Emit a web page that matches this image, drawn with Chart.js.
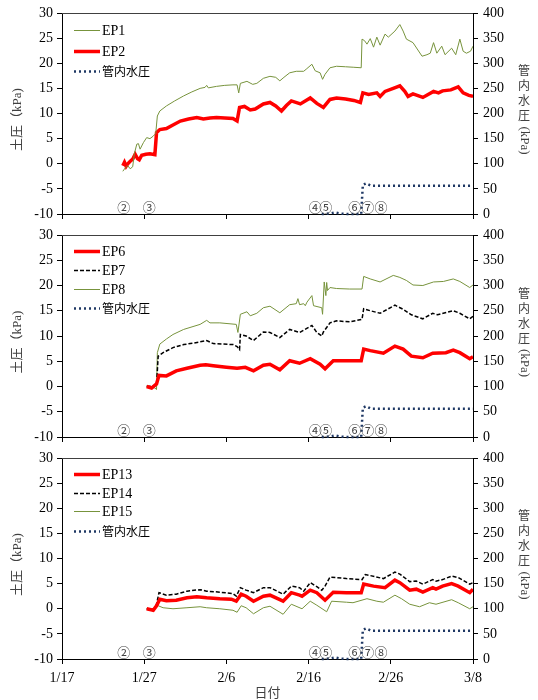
<!DOCTYPE html>
<html><head><meta charset="utf-8">
<script src="https://cdn.jsdelivr.net/npm/chart.js@4"></script>
<style>
html,body{margin:0;padding:0;background:#fff;}
#wrap{position:relative;width:538px;height:700px;background:#fff;}
canvas{position:absolute;left:0;}
</style></head><body>
<div id="wrap">
<canvas id="c1" width="538" height="223" style="top:0px"></canvas>
<canvas id="c2" width="538" height="223" style="top:223px"></canvas>
<canvas id="c3" width="538" height="254" style="top:446px"></canvas>
</div>
<script>
// x values are days since 1/17
const xTickLabels = ['1/17','1/27','2/6','2/16','2/26','3/8'];
const leftTitle = '土圧（kPa)';
const rightTitleChars = ['管','内','水','圧'];
const rightTitleUnit = '(kPa)';
const xTitle = '日付';

const ep1Days = [7.4,7.7,8.0,8.3,8.6,8.8,9.1,9.3,9.5,9.9,10.3,10.7,11.1,11.4,11.6,11.9,12.7,13.7,14.8,15.8,16.8,17.4,17.6,17.8,18.8,19.8,20.8,21.3,21.5,21.7,22.5,23.2,23.7,24.5,25.3,26.0,26.5,27.0,27.7,28.5,29.4,29.7,30.4,30.8,31.4,31.7,32.0,32.6,33.4,34.5,35.5,36.4,36.5,36.8,37.1,37.5,37.9,38.3,38.7,39.3,39.7,40.5,41.1,41.5,41.9,42.7,43.8,44.4,44.8,45.2,45.6,46.2,46.6,47.4,47.9,48.4,48.8,49.2,49.7,50.0];
const ep1Vals = [-1.5,-0.8,-0.4,-1.0,-0.6,2.0,3.9,4.0,2.9,4.2,5.2,5.0,5.5,6.0,9.5,10.5,11.5,12.5,13.5,14.3,15.0,15.2,15.6,15.1,15.4,15.6,15.7,15.7,14.1,16.0,16.4,15.8,16.0,17.0,17.4,17.2,16.5,17.2,18.1,18.4,18.4,18.8,19.8,18.5,18.1,16.8,17.8,19.1,19.4,19.3,19.2,19.1,24.8,24.5,23.8,24.9,23.2,25.2,23.6,25.8,25.2,26.4,27.7,26.4,24.8,24.1,21.4,21.7,22.0,24.1,22.0,23.4,21.7,23.0,21.7,24.8,22.4,22.0,22.4,23.4];

const ep2Days = [7.4,7.6,7.8,8.0,8.3,8.6,8.9,9.2,9.4,9.7,10.2,10.7,11.3,11.5,11.9,12.7,13.5,14.4,15.4,16.4,17.2,18.0,18.8,19.8,20.8,21.3,21.6,22.2,22.9,23.5,24.5,25.3,26.0,26.7,27.3,27.9,29.0,30.2,31.0,31.8,32.6,33.4,34.5,35.5,36.3,36.6,37.3,38.3,38.7,39.3,40.3,41.1,41.7,42.1,42.7,43.9,45.2,45.8,46.3,47.3,48.2,48.8,49.5,50.0];
const ep2Vals = [-0.4,0.3,-0.5,0.0,0.5,0.9,1.9,1.0,0.8,1.7,1.9,2.0,1.8,6.2,6.8,7.0,7.7,8.5,8.9,9.2,8.9,9.1,9.2,9.1,9.0,8.5,11.2,11.4,10.7,10.9,11.9,12.2,11.5,10.5,11.6,12.5,11.9,13.1,12.0,11.2,12.8,13.1,12.9,12.6,12.2,14.1,13.8,14.1,13.4,14.4,15.0,15.5,14.4,13.4,13.9,13.2,14.4,14.1,14.5,14.7,15.3,14.1,13.6,13.4];

const ep6Days = [10.3,10.9,11.5,11.8,12.7,13.9,15.2,16.8,17.5,18.4,20.0,21.3,22.3,23.3,24.5,25.3,26.5,27.7,28.9,30.2,31.4,32.0,33.0,34.6,36.4,36.7,37.5,39.1,40.5,41.5,42.5,43.9,45.1,46.7,47.6,48.4,49.6,50.0];
const ep6Vals = [0.0,-0.3,0.5,2.2,2.1,3.1,3.6,4.2,4.3,4.1,3.8,3.6,3.8,3.1,4.2,4.4,3.3,5.1,4.6,5.5,4.4,3.5,5.1,5.1,5.1,7.4,7.1,6.6,8.0,7.4,6.0,5.7,6.6,6.7,7.2,6.7,5.5,5.9];

const ep7Days = [10.3,11.2,11.5,11.7,12.3,13.5,14.8,16.0,17.6,18.4,20.8,21.3,21.6,21.7,22.4,23.3,24.5,25.3,26.5,27.7,28.9,30.4,31.0,31.6,31.8,32.6,33.4,35.0,36.5,36.7,37.5,38.7,40.5,41.5,42.5,43.9,45.1,45.7,47.6,48.4,49.6,50.0];
const ep7Vals = [0.0,0.1,0.3,6.0,6.7,7.7,8.3,8.6,9.1,8.5,8.3,7.9,7.3,10.3,10.0,9.1,10.8,10.7,9.7,11.3,10.7,12.1,10.7,10.0,10.8,12.6,13.0,12.8,13.3,15.4,15.0,14.5,16.1,15.3,14.2,13.4,14.5,14.2,15.0,14.5,13.4,13.9];

const ep8Days = [10.3,11.3,11.5,11.6,11.9,12.7,13.5,14.8,16.8,17.6,18.0,19.2,21.2,21.4,21.7,22.5,22.9,23.7,24.5,25.3,26.5,27.7,28.5,28.7,28.9,29.4,29.6,29.8,30.4,30.6,31.6,31.7,31.9,32.1,32.2,32.3,32.6,33.4,35.0,36.5,36.7,37.5,38.7,40.3,41.1,41.9,42.7,43.9,45.2,46.4,47.6,48.4,49.6,50.0];
const ep8Vals = [0.1,-0.3,-0.6,6.7,8.4,9.4,10.3,11.3,12.3,13.1,12.6,12.6,12.3,10.7,14.3,14.8,14.0,14.5,15.6,15.9,14.6,16.2,16.4,17.4,16.2,16.4,16.0,16.7,18.0,16.0,15.6,14.3,20.7,18.0,20.6,19.0,19.6,19.4,19.3,19.3,21.8,21.3,20.7,22.0,21.6,21.0,20.1,20.0,20.7,20.8,21.3,20.8,19.6,20.1];

const ep13Days = [10.3,11.1,11.5,11.9,12.7,13.9,15.2,16.4,17.6,19.2,20.6,21.2,21.8,22.4,23.3,24.5,25.3,26.9,27.9,28.9,29.2,30.2,31.0,32.0,33.0,34.6,36.4,36.7,37.9,39.3,40.5,41.1,42.3,43.1,43.9,45.1,45.5,46.3,47.4,48.2,49.6,50.0];
const ep13Vals = [0.0,-0.3,0.6,1.9,1.6,1.7,2.2,2.4,2.2,2.0,1.9,1.5,2.9,2.5,1.5,2.5,2.7,1.5,3.2,2.7,2.5,3.7,3.2,1.7,3.3,3.2,3.2,4.9,4.5,4.2,5.7,5.2,3.7,3.9,3.3,4.2,3.9,4.5,5.0,4.5,3.2,3.9];

const ep14Days = [10.3,11.1,11.5,11.8,12.7,13.9,15.2,16.8,17.6,19.2,20.8,21.2,21.7,22.4,23.3,24.5,25.3,26.9,27.9,28.9,29.4,30.2,31.0,31.6,32.0,32.6,33.4,34.6,36.5,36.9,37.5,39.1,40.5,41.1,42.3,43.1,43.9,45.1,45.5,46.3,47.4,48.2,49.6,50.0];
const ep14Vals = [0.0,-0.4,0.9,3.2,2.7,2.9,3.5,3.8,3.5,3.3,3.0,2.5,4.2,3.7,3.2,4.2,4.2,2.9,4.5,4.2,3.5,5.2,4.4,3.7,4.5,6.3,6.2,6.0,5.8,6.8,6.6,6.0,7.3,6.9,5.4,5.5,4.9,5.8,5.5,5.8,6.5,6.2,4.9,5.2];

const ep15Days = [10.3,11.1,11.7,12.3,13.5,15.2,16.8,17.6,19.2,20.8,21.3,21.8,22.4,23.3,24.5,25.3,26.9,27.9,29.2,30.2,31.0,32.2,32.8,34.6,35.4,37.1,38.3,39.1,40.5,41.3,42.3,43.5,44.7,45.5,47.4,48.2,49.6,50.0];
const ep15Vals = [0.0,-0.4,0.6,0.2,0.0,0.2,0.4,0.2,0.0,-0.3,-0.7,0.6,0.2,-1.0,0.2,0.5,-1.1,0.9,0.0,1.5,0.7,-0.6,1.5,1.3,1.2,2.0,1.5,1.3,2.7,2.0,0.9,0.4,1.2,0.9,1.8,1.2,0.0,0.4];

const waterDays = [31.6,32.6,33.2,33.8,34.5,36.4,36.5,36.6,37.0,37.6,50.0];
const waterVals = [0,1,3,1,0,0,30,58,61,56,56];

const markLabels = ['②','③','④','⑤','⑥','⑦','⑧'];
const markDays = [7.5,10.6,30.8,32.1,35.6,37.2,38.8];

const SERIF = '"Liberation Serif", "Times New Roman", serif';
const CJK = '"Noto Sans CJK JP", sans-serif';
const MIX = '"Liberation Serif", "Noto Sans CJK JP", serif';

const GREEN = '#77933C', RED = '#FF0000', BLACK = '#000000', NAVY = '#1F3864';

function pts(d, v){ return d.map((x,i)=>({x:x, y:v[i]})); }

function waterSet(){
  return {label:'管内水圧', data:pts(waterDays, waterVals), yAxisID:'y2', borderColor:NAVY,
    borderWidth:2.5, borderDash:[2,3], pointRadius:0, clip:5, tension:0};
}
function greenSet(label, d, v){
  return {label, data:pts(d,v), yAxisID:'y', borderColor:GREEN, borderWidth:1, pointRadius:0, tension:0};
}
function redSet(label, d, v){
  return {label, data:pts(d,v), yAxisID:'y', borderColor:RED, borderWidth:3.5, pointRadius:0, tension:0};
}
function blackSet(label, d, v){
  return {label, data:pts(d,v), yAxisID:'y', borderColor:BLACK, borderWidth:1.5, borderDash:[4,2], pointRadius:0, tension:0};
}

const decor = {
  id:'decor',
  afterDraw(chart, args, opts){
    const {ctx, chartArea:a, scales} = chart;
    ctx.save();
    // top border of plot area
    ctx.strokeStyle = '#404040'; ctx.lineWidth = 1; ctx.setLineDash([]);
    ctx.beginPath(); ctx.moveTo(a.left, a.top + 0.5); ctx.lineTo(a.right, a.top + 0.5); ctx.stroke();
    // legend
    chart.data.datasets.forEach((d,i)=>{
      const y = Math.round(a.top + opts.legendY[i]) + 0.5;
      ctx.beginPath();
      ctx.strokeStyle = d.borderColor; ctx.lineWidth = d.borderWidth;
      ctx.setLineDash(d.borderDash || []);
      ctx.moveTo(74, y); ctx.lineTo(100, y); ctx.stroke();
      ctx.setLineDash([]);
      const isCJK = /[^\x00-\x7f]/.test(d.label);
      ctx.font = isCJK ? '12px ' + CJK : '14px ' + SERIF;
      ctx.fillStyle = '#000'; ctx.textBaseline = 'middle'; ctx.textAlign = 'left';
      ctx.fillText(d.label, 102, y + (isCJK ? 0 : 1));
    });
    // event marks
    ctx.font = '13px ' + CJK; ctx.fillStyle = '#404040';
    ctx.textAlign = 'center'; ctx.textBaseline = 'middle';
    markLabels.forEach((m,i)=> ctx.fillText(m, scales.x.getPixelForValue(markDays[i]), a.bottom - 7));
    // left axis title
    const c = (a.top + a.bottom) / 2;
    ctx.save();
    ctx.translate(18, c + 6); ctx.rotate(-Math.PI/2);
    ctx.font = '13px ' + MIX; ctx.fillStyle = '#404040';
    ctx.textAlign = 'center'; ctx.textBaseline = 'middle';
    ctx.fillText(leftTitle, 0, 0);
    ctx.restore();
    // right axis title (vertical writing)
    ctx.font = '12px ' + CJK; ctx.fillStyle = '#404040';
    ctx.textAlign = 'center'; ctx.textBaseline = 'middle';
    rightTitleChars.forEach((ch,i)=> ctx.fillText(ch, 524, c - 43 + i*15));
    ctx.save();
    ctx.translate(524, c + 27); ctx.rotate(Math.PI/2);
    ctx.font = '13px ' + SERIF;
    ctx.fillText(rightTitleUnit, 0, 0);
    ctx.restore();
    ctx.restore();
  }
};

function fitV(w){
  return (s)=>{ s.width = w; s.paddingTop = 0; s.paddingBottom = 0; s.paddingLeft = 0; s.paddingRight = 0; };
}

function makeChart(id, datasets, padTop, xHeight, showX, legendY){
  return new Chart(document.getElementById(id), {
    type:'line',
    data:{datasets},
    plugins:[decor],
    options:{
      responsive:false, animation:false, devicePixelRatio:1,
      layout:{padding:{top:padTop, left:0, right:0, bottom:0}},
      plugins:{legend:{display:false}, tooltip:{enabled:false}, decor:{legendY}},
      scales:{
        x:{type:'linear', position:'bottom', min:0, max:50,
          ticks:{display:showX, stepSize:10, autoSkip:false, maxRotation:0, padding:6, color:'#000',
            font:{family:SERIF, size:14}, callback:(v)=> xTickLabels[Math.round(v/10)]},
          grid:{drawOnChartArea:false, drawTicks:true, tickLength:5, color:'#000'},
          border:{display:true, color:'#000', width:1},
          title:{display:showX, text:xTitle, color:'#404040', font:{family:CJK, size:13}, padding:{top:0,bottom:0}},
          afterFit:(s)=>{ s.height = xHeight; s.paddingLeft = 0; s.paddingRight = 0; s.paddingTop = 0; s.paddingBottom = 0; }
        },
        y:{type:'linear', position:'left', min:-10, max:30,
          ticks:{stepSize:5, padding:4, color:'#000', font:{family:SERIF, size:14}},
          grid:{drawOnChartArea:false, drawTicks:true, tickLength:5, color:'#000'},
          border:{display:true, color:'#000', width:1},
          afterFit:fitV(62)
        },
        y2:{type:'linear', position:'right', min:0, max:400,
          ticks:{stepSize:50, padding:5, color:'#000', font:{family:SERIF, size:14}},
          grid:{drawOnChartArea:false, drawTicks:true, tickLength:5, color:'#000'},
          border:{display:true, color:'#000', width:1},
          afterFit:fitV(65)
        }
      }
    }
  });
}

makeChart('c1', [greenSet('EP1', ep1Days, ep1Vals), redSet('EP2', ep2Days, ep2Vals), waterSet()],
  13, 9, false, [17, 37.5, 58]);
makeChart('c2', [redSet('EP6', ep6Days, ep6Vals), blackSet('EP7', ep7Days, ep7Vals), greenSet('EP8', ep8Days, ep8Vals), waterSet()],
  12, 9, false, [15.5, 34.5, 53.5, 72.5]);
makeChart('c3', [redSet('EP13', ep13Days, ep13Vals), blackSet('EP14', ep14Days, ep14Vals), greenSet('EP15', ep15Days, ep15Vals), waterSet()],
  12, 41, true, [15.5, 34.5, 53, 72.5]);
</script>
</body></html>
